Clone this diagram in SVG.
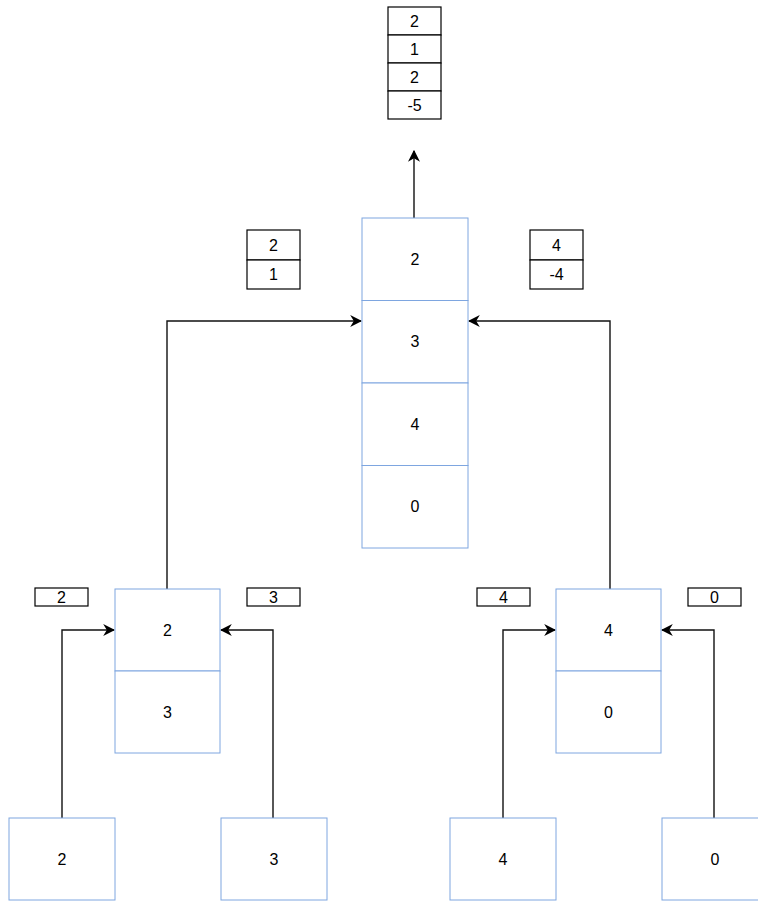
<svg xmlns="http://www.w3.org/2000/svg" width="758" height="901" viewBox="0 0 758 901">
  <style>
    .node { fill: #ffffff; stroke: #7ea6e0; stroke-width: 1; }
    .tag { fill: #ffffff; stroke: #000000; stroke-width: 1.2; }
    .edge { fill: none; stroke: #111111; stroke-width: 1.4; }
    text { font-family: "Liberation Sans", Arial, sans-serif; font-size: 16px; fill: #000000; text-anchor: middle; dominant-baseline: central; }
    .small { font-size: 16px; }
  </style>
  <defs>
    <marker id="arrow" viewBox="0 0 10 10" refX="9" refY="5" markerWidth="12" markerHeight="12" markerUnits="userSpaceOnUse" orient="auto">
      <path d="M0,0 L10,5 L0,10 L3,5 Z" fill="#000000"/>
    </marker>
  </defs>

  <!-- connectors -->
  <g id="edges">
    <path class="edge" d="M414,218 L414,151" marker-end="url(#arrow)"/>
    <path class="edge" d="M167,589 L167,321 L361,321" marker-end="url(#arrow)"/>
    <path class="edge" d="M610,589 L610,321 L469,321" marker-end="url(#arrow)"/>
    <path class="edge" d="M62,818 L62,630 L114,630" marker-end="url(#arrow)"/>
    <path class="edge" d="M273,818 L273,630 L221,630" marker-end="url(#arrow)"/>
    <path class="edge" d="M503,818 L503,630 L555,630" marker-end="url(#arrow)"/>
    <path class="edge" d="M714,818 L714,630 L662,630" marker-end="url(#arrow)"/>
  </g>

  <!-- result stack -->
  <g id="result">
    <rect class="tag" x="388" y="7" width="53" height="28"/>
    <rect class="tag" x="388" y="35" width="53" height="28"/>
    <rect class="tag" x="388" y="63" width="53" height="28"/>
    <rect class="tag" x="388" y="91" width="53" height="28"/>
    <text class="small" x="414.5" y="21">2</text>
    <text class="small" x="414.5" y="49">1</text>
    <text class="small" x="414.5" y="77">2</text>
    <text class="small" x="414.5" y="105">-5</text>
  </g>

  <!-- root node -->
  <g id="root">
    <rect class="node" x="362" y="218" width="106" height="82.5"/>
    <rect class="node" x="362" y="300.5" width="106" height="82.5"/>
    <rect class="node" x="362" y="383" width="106" height="82.5"/>
    <rect class="node" x="362" y="465.5" width="106" height="82.5"/>
    <text x="415" y="259">2</text>
    <text x="415" y="341">3</text>
    <text x="415" y="424">4</text>
    <text x="415" y="506">0</text>
  </g>

  <!-- edge values into root -->
  <g id="tag-left-root">
    <rect class="tag" x="247" y="230" width="53" height="30"/>
    <rect class="tag" x="247" y="260" width="53" height="29"/>
    <text class="small" x="273.5" y="245">2</text>
    <text class="small" x="273.5" y="274">1</text>
  </g>
  <g id="tag-right-root">
    <rect class="tag" x="530" y="230" width="53" height="30"/>
    <rect class="tag" x="530" y="260" width="53" height="29"/>
    <text class="small" x="556.5" y="245">4</text>
    <text class="small" x="556.5" y="274">-4</text>
  </g>

  <!-- middle nodes -->
  <g id="mid-left">
    <rect class="node" x="115" y="589" width="105" height="82"/>
    <rect class="node" x="115" y="671" width="105" height="82"/>
    <text x="167.5" y="630">2</text>
    <text x="167.5" y="712">3</text>
  </g>
  <g id="mid-right">
    <rect class="node" x="556" y="589" width="105" height="82"/>
    <rect class="node" x="556" y="671" width="105" height="82"/>
    <text x="608.5" y="630">4</text>
    <text x="608.5" y="712">0</text>
  </g>

  <!-- leaf edge values -->
  <g id="tag-2"><rect class="tag" x="35" y="588" width="53" height="18"/><text class="small" x="61.5" y="597">2</text></g>
  <g id="tag-3"><rect class="tag" x="247" y="588" width="53" height="18"/><text class="small" x="273.5" y="597">3</text></g>
  <g id="tag-4"><rect class="tag" x="477" y="588" width="53" height="18"/><text class="small" x="503.5" y="597">4</text></g>
  <g id="tag-0"><rect class="tag" x="688" y="588" width="53" height="18"/><text class="small" x="714.5" y="597">0</text></g>

  <!-- leaves -->
  <g id="leaf-2"><rect class="node" x="9" y="818" width="106" height="82"/><text x="62" y="859">2</text></g>
  <g id="leaf-3"><rect class="node" x="221" y="818" width="106" height="82"/><text x="274" y="859">3</text></g>
  <g id="leaf-4"><rect class="node" x="450" y="818" width="106" height="82"/><text x="503" y="859">4</text></g>
  <g id="leaf-0"><rect class="node" x="662" y="818" width="106" height="82"/><text x="715" y="859">0</text></g>
</svg>
